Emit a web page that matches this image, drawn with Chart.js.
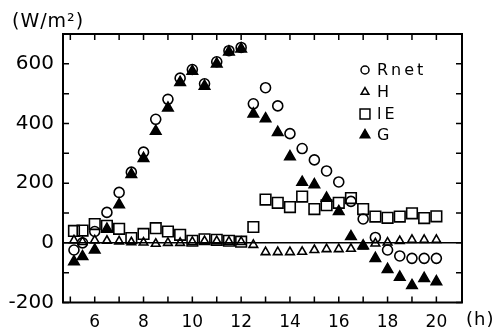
<!DOCTYPE html>
<html>
<head>
<meta charset="utf-8">
<script src="https://cdn.jsdelivr.net/npm/chart.js@4/dist/chart.umd.min.js"></script>
<style>
  html, body { margin: 0; padding: 0; background: #fff; }
  #c { display: block; }
</style>
</head>
<body>
<canvas id="c" width="501" height="332"></canvas>
<script>
/* half-hourly observation times (h) */
const hours = [5.15, 5.5, 6, 6.5, 7, 7.5, 8, 8.5, 9, 9.5, 10, 10.5, 11, 11.5, 12, 12.5,
               13, 13.5, 14, 14.5, 15, 15.5, 16, 16.5, 17, 17.5, 18, 18.5, 19, 19.5, 20];

/* fluxes, W/m2 */
const rnet = [-24, 0, 38, 102, 169, 237, 304, 414, 481, 552, 581, 533, 607, 644, 655, 466,
              520, 459, 366, 316, 278, 241, 204, 139, 80, 18, -24, -44, -52, -52, -52];
const sensible = [8, 3, 8, 7, 5, 2, 1, -3, 0, 0, 3, 6, 6, 4, 3, -7,
                  -31, -31, -31, -30, -24, -21, -21, -20, -12, -2, 1, 6, 10, 10, 10];
const latent = [40, 41, 63, 57, 47, 16, 30, 49, 38, 27, 7, 12, 10, 7, 4, 53,
                145, 134, 120, 155, 113, 126, 134, 150, 113, 88, 84, 88, 99, 83, 89];
const ground = [-63, -46, -24, 46, 128, 229, 283, 374, 452, 538, 575, 525, 600, 640, 650, 432,
                416, 370, 289, 203, 195, 150, 105, 21, -10, -52, -89, -115, -143, -119, -130];

const xTicks = [5, 6, 7, 8, 9, 10, 11, 12, 13, 14, 15, 16, 17, 18, 19, 20];
const xLabels = [6, 8, 10, 12, 14, 16, 18, 20];
const yLabels = [-200, 0, 200, 400, 600];

const FONT = "'DejaVu Sans', sans-serif";

function pts(vals) {
    return vals.map((v, i) => ({ x: hours[i], y: v }));
}

const series = [
    { label: "Rnet", data: rnet, style: "circle", r: 5, fill: false, legR: 4 },
    { label: "H", data: sensible, style: "triangle", r: 5, fill: false, legR: 4.5 },
    { label: "lE", data: latent, style: "rect", r: 7.5, fill: false, legR: 7 },
    { label: "G", data: ground, style: "triangle", r: 6, fill: true, legR: 5.5 }
];

/* frame, inward ticks, legend and unit labels */
const decor = {
    id: "decor",
    afterDraw(chart) {
        const ctx = chart.ctx;
        const a = chart.chartArea;
        const xs = chart.scales.x, ys = chart.scales.y;
        const tl = 6;
        ctx.save();
        ctx.strokeStyle = "#000";
        ctx.lineWidth = 2;
        ctx.strokeRect(a.left, a.top, a.right - a.left, a.bottom - a.top);

        ctx.lineWidth = 1.5;
        ctx.beginPath();
        xs.ticks.forEach(t => {
            const px = xs.getPixelForValue(t.value);
            ctx.moveTo(px, a.bottom); ctx.lineTo(px, a.bottom - tl);
            ctx.moveTo(px, a.top); ctx.lineTo(px, a.top + tl);
        });
        ys.ticks.forEach(t => {
            const py = ys.getPixelForValue(t.value);
            ctx.moveTo(a.left, py); ctx.lineTo(a.left + tl, py);
            ctx.moveTo(a.right, py); ctx.lineTo(a.right - tl, py);
        });
        ctx.stroke();

        // legend
        const lx = 365, ly = [70, 92, 114, 135];
        ctx.fillStyle = "#000";
        ctx.font = "16px " + FONT;
        ctx.textBaseline = "middle";
        ctx.textAlign = "left";
        ctx.letterSpacing = "3px";
        series.forEach((s, i) => {
            ctx.fillStyle = s.fill ? "#000" : "rgba(0,0,0,0)";
            ctx.strokeStyle = "#000";
            ctx.lineWidth = 1.5;
            Chart.helpers.drawPoint(ctx, {
                pointStyle: s.style, radius: s.legR, rotation: 0, borderWidth: 1.5
            }, lx, ly[i]);
            if (s.fill) ctx.fill();
            ctx.fillStyle = "#000";
            ctx.fillText(s.label, 377, ly[i] + 1);
        });

        ctx.letterSpacing = "1px";
        ctx.font = "19px " + FONT;
        ctx.fillText("(W/m²)", 12, 22);
        ctx.font = "18px " + FONT;
        ctx.fillText("(h)", 466, 320);
        ctx.restore();
    }
};

new Chart(document.getElementById("c"), {
    type: "scatter",
    data: {
        datasets: series.map(s => ({
            label: s.label,
            data: pts(s.data),
            pointStyle: s.style,
            pointRadius: s.r,
            pointHoverRadius: s.r,
            pointBorderWidth: 1.6,
            pointBorderColor: "#000",
            pointBackgroundColor: s.fill ? "#000" : "rgba(0,0,0,0)",
            showLine: false
        }))
    },
    options: {
        responsive: false,
        animation: false,
        devicePixelRatio: 1,
        layout: { padding: { top: 34, right: 39, left: 0, bottom: 0 } },
        plugins: {
            legend: { display: false },
            tooltip: { enabled: false }
        },
        scales: {
            x: {
                type: "linear",
                min: 4.7,
                max: 21.05,
                afterBuildTicks: sc => { sc.ticks = xTicks.map(v => ({ value: v })); },
                afterFit: sc => { sc.height = 29.5; },
                border: { display: false },
                grid: { display: false, drawTicks: false },
                ticks: {
                    autoSkip: false,
                    maxRotation: 0,
                    padding: 10,
                    color: "#000",
                    font: { family: FONT, size: 17 },
                    callback: v => xLabels.includes(v) ? String(v) : ""
                }
            },
            y: {
                min: -200,
                max: 700,
                afterFit: sc => { sc.width = 63; },
                border: { display: false },
                grid: {
                    drawTicks: false,
                    lineWidth: 1.5,
                    color: c => c.tick && c.tick.value === 0 ? "#000" : "rgba(0,0,0,0)"
                },
                ticks: {
                    stepSize: 100,
                    padding: 9,
                    color: "#000",
                    font: { family: FONT, size: 20 },
                    callback: v => yLabels.includes(v) ? String(v) : ""
                }
            }
        }
    },
    plugins: [decor]
});
</script>
</body>
</html>
